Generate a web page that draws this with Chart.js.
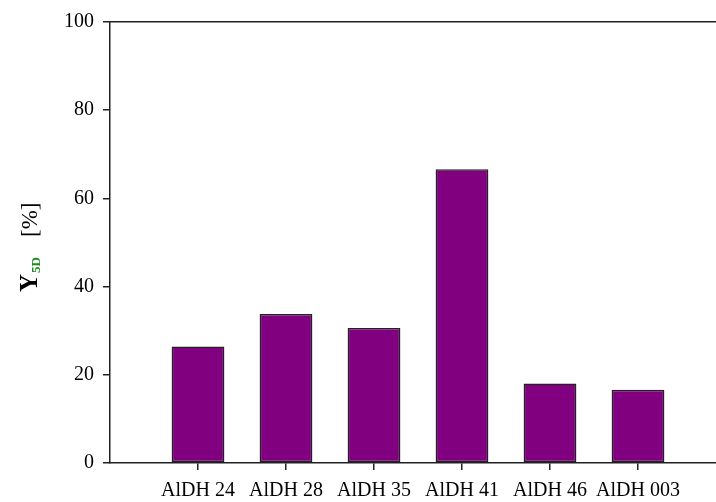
<!DOCTYPE html>
<html>
<head>
<meta charset="utf-8">
<script src="https://cdn.jsdelivr.net/npm/chart.js@4/dist/chart.umd.min.js"></script>
<style>
    html, body { margin: 0; padding: 0; background: #fff; overflow: hidden; }
    #wrap { position: relative; width: 726px; height: 502px; }
</style>
</head>
<body>
<div id="wrap"><canvas id="yieldChart"></canvas></div>
<script>
// values
var categories = ['AlDH 24', 'AlDH 28', 'AlDH 35', 'AlDH 41', 'AlDH 46', 'AlDH 003'];
var yieldValues = [26.4, 33.8, 30.6, 66.6, 18.0, 16.6];
var yTickValues = [0, 20, 40, 60, 80, 100];

var axisColor = '#222';
var barColor = '#800080';
var tickFont = { family: 'Liberation Serif', size: 20 };

// bars sit on a linear x scale at 1..6 so that slot 0 stays empty
var points = categories.map(function (c, i) {
    return { x: i + 1, y: yieldValues[i] };
});

// rotated y title: Y, green subscript 5D, [%]
var yTitlePlugin = {
    id: 'yTitle',
    afterDraw: function (chart) {
        var ctx = chart.ctx;
        ctx.save();
        ctx.translate(37, 292);
        ctx.rotate(-Math.PI / 2);
        ctx.textBaseline = 'alphabetic';
        ctx.textAlign = 'left';

        ctx.fillStyle = '#000';
        ctx.font = 'bold 25px "Liberation Serif"';
        ctx.fillText('Y', 0, 0);

        ctx.fillStyle = '#1a8c1a';
        ctx.font = 'bold 13px "Liberation Serif"';
        ctx.fillText('5D', 19, 3);

        ctx.fillStyle = '#000';
        ctx.font = '23px "Liberation Serif"';
        ctx.fillText('[%]', 55, 0);
        ctx.restore();
    }
};

var config = {
    type: 'bar',
    data: {
        datasets: [{
            data: points,
            backgroundColor: barColor,
            borderColor: axisColor,
            borderWidth: 1.5,
            borderSkipped: false,
            barPercentage: 0.6,
            categoryPercentage: 1
        }]
    },
    options: {
        responsive: true,
        maintainAspectRatio: false,
        animation: false,
        layout: { padding: { top: 22, left: 0, right: 0, bottom: 0 } },
        plugins: {
            legend: { display: false },
            tooltip: { enabled: false }
        },
        scales: {
            x: {
                type: 'linear',
                position: 'bottom',
                offset: false,
                min: 0,
                max: 7,
                afterBuildTicks: function (scale) {
                    scale.ticks = categories.map(function (c, i) { return { value: i + 1 }; });
                },
                afterFit: function (scale) { scale.height = 39; },
                ticks: {
                    color: '#000',
                    font: tickFont,
                    padding: 9,
                    maxRotation: 0,
                    autoSkip: false,
                    callback: function (v) { return categories[v - 1]; }
                },
                grid: {
                    display: true,
                    offset: false,
                    drawOnChartArea: false,
                    drawTicks: true,
                    tickLength: 7,
                    color: axisColor,
                    lineWidth: 1.5
                },
                border: { display: true, color: axisColor, width: 1.5 }
            },
            xTop: {
                type: 'linear',
                position: 'top',
                offset: false,
                min: 0,
                max: 7,
                afterFit: function (scale) { scale.height = 0; },
                ticks: { display: false },
                grid: { display: false },
                border: { display: true, color: axisColor, width: 1.5 }
            },
            y: {
                min: 0,
                max: 100,
                afterBuildTicks: function (scale) {
                    scale.ticks = yTickValues.map(function (v) { return { value: v }; });
                },
                afterFit: function (scale) { scale.width = 110; },
                ticks: {
                    color: '#000',
                    font: tickFont,
                    padding: 9
                },
                grid: {
                    display: true,
                    drawOnChartArea: false,
                    drawTicks: true,
                    tickLength: 7,
                    color: axisColor,
                    lineWidth: 1.5
                },
                border: { display: true, color: axisColor, width: 1.5 }
            }
        }
    },
    plugins: [yTitlePlugin]
};

var myChart = new Chart(document.getElementById('yieldChart'), config);
</script>
</body>
</html>
